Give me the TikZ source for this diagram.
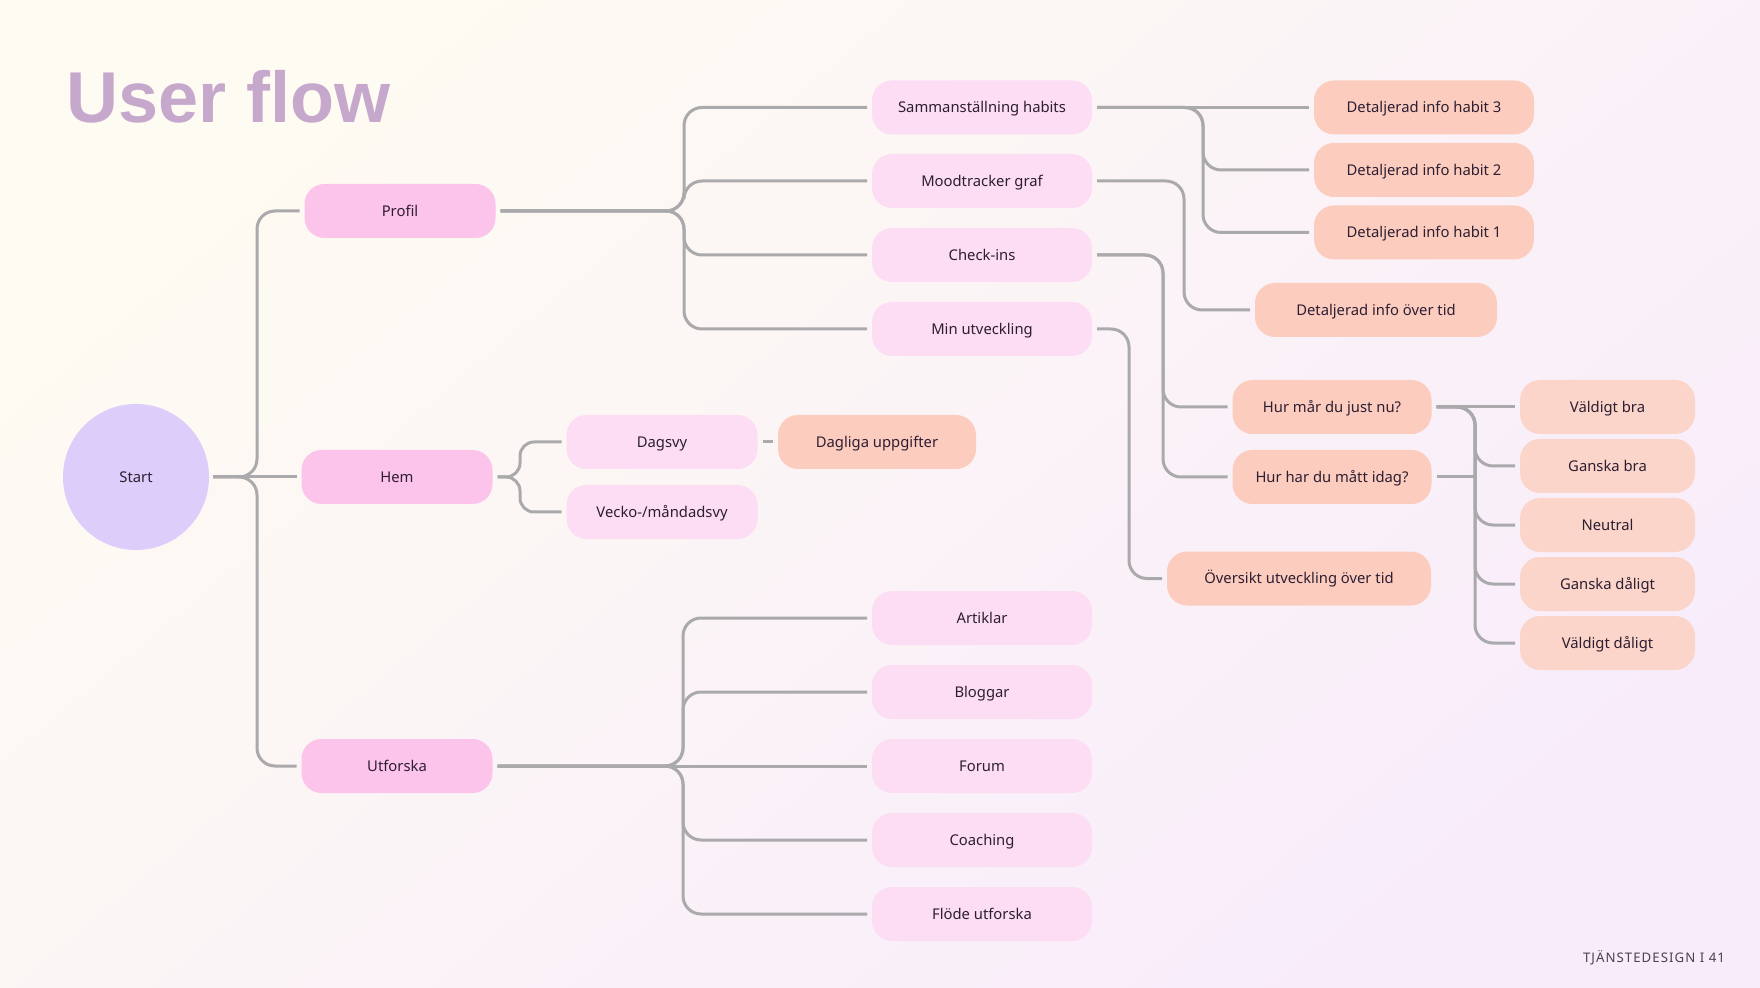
\documentclass[tikz,border=0pt]{standalone}
\usepackage{fontspec}
\setmainfont{Noto Sans}
\newfontfamily\titlefont{Liberation Sans}

\definecolor{bgtop}{RGB}{254,251,242}
\definecolor{bgbot}{RGB}{248,236,251}
\definecolor{titlecol}{RGB}{199,168,205}
\definecolor{startcol}{RGB}{221,205,250}
\definecolor{pinkA}{RGB}{252,195,235}
\definecolor{pinkB}{RGB}{252,221,243}
\definecolor{peachA}{RGB}{252,205,191}
\definecolor{peachB}{RGB}{251,213,202}
\definecolor{inkcol}{RGB}{45,30,50}
\definecolor{linecol}{RGB}{170,170,172}

\tikzset{
  flowbox/.style={rounded corners=10pt, minimum height=27pt, inner sep=0pt, outer sep=2.5pt,
    text height=5.3pt, text depth=0pt, text=inkcol, font=\fontsize{7.4}{9}\selectfont},
  startnode/.style={circle, fill=startcol, minimum size=73pt, inner sep=0pt, outer sep=2pt,
    text height=5.3pt, text depth=0pt, text=inkcol, font=\fontsize{7.4}{9}\selectfont},
  toplevel/.style={flowbox, fill=pinkA, minimum width=95.5pt},
  sublevel/.style={flowbox, fill=pinkB, minimum width=110pt},
  detail/.style={flowbox, fill=peachA, minimum width=110pt},
  mood/.style={flowbox, fill=peachB, minimum width=87.5pt},
  link/.style={draw=linecol, line width=1.5pt, rounded corners=9pt},
}

\begin{document}
\begin{tikzpicture}[x=0.5pt, y=-0.5pt]
\shade[top color=bgtop, bottom color=bgbot, shading angle=40] (0,0) rectangle (1760,988);

\node[anchor=base west, inner sep=0pt, text=titlecol, font=\titlefont\fontsize{36}{40}\selectfont\bfseries] (title) at (66,123) {User flow};
\node[anchor=base east, text=inkcol!85, font=\fontsize{6.6}{8}\selectfont\addfontfeature{LetterSpace=8}] (footer) at (1732,962) {TJÄNSTEDESIGN I 41};

% start and first level
\node[startnode] (start) at (136,477) {Start};
\node[toplevel] (profil) at (400,211) {Profil};
\node[toplevel] (hem) at (397,477) {Hem};
\node[toplevel] (utforska) at (397,766) {Utforska};

% hem
\node[sublevel, minimum width=95.5pt] (dagsvy) at (662,442) {Dagsvy};
\node[sublevel, minimum width=95.5pt] (vecko) at (662,512) {Vecko-/måndadsvy};
\node[detail, minimum width=99pt] (dagliga) at (877,442) {Dagliga uppgifter};

% profil
\node[sublevel] (summ) at (982,107.5) {Sammanställning habits};
\node[sublevel] (moodgraf) at (982,181) {Moodtracker graf};
\node[sublevel] (checkins) at (982,255) {Check-ins};
\node[sublevel] (minutv) at (982,329) {Min utveckling};

\node[detail] (habit3) at (1424,107.5) {Detaljerad info habit 3};
\node[detail] (habit2) at (1424,170) {Detaljerad info habit 2};
\node[detail] (habit1) at (1424,232.5) {Detaljerad info habit 1};
\node[detail, minimum width=121pt] (overtid) at (1376,310) {Detaljerad info över tid};
\node[detail, minimum width=99.5pt] (hurmar) at (1332,407) {Hur mår du just nu?};
\node[detail, minimum width=99.5pt] (hurhar) at (1332,477) {Hur har du mått idag?};
\node[detail, minimum width=132pt] (oversikt) at (1299,578.5) {Översikt utveckling över tid};

\node[mood] (m1) at (1607.5,407) {Väldigt bra};
\node[mood] (m2) at (1607.5,466) {Ganska bra};
\node[mood] (m3) at (1607.5,525) {Neutral};
\node[mood] (m4) at (1607.5,584) {Ganska dåligt};
\node[mood] (m5) at (1607.5,643) {Väldigt dåligt};

% utforska
\node[sublevel] (artiklar) at (982,618) {Artiklar};
\node[sublevel] (bloggar) at (982,692) {Bloggar};
\node[sublevel] (forum) at (982,766) {Forum};
\node[sublevel] (coaching) at (982,840) {Coaching};
\node[sublevel] (flode) at (982,914) {Flöde utforska};

% branch points
\coordinate (j0) at (257,477);
\coordinate (j1) at (684,211);
\coordinate (j2) at (520,477);
\coordinate (j3) at (683,766);
\coordinate (j4) at (1203,107.5);
\coordinate (j5) at (1184,181);
\coordinate (j6) at (1163,255);
\coordinate (j7) at (1129,329);
\coordinate (j8) at (1475,407);
\coordinate (j9) at (1475,477);

\draw[link] (start) -- (hem);
\foreach \k in {profil,utforska} \draw[link] (start) -- (j0) |- (\k);
\foreach \k in {summ,moodgraf,checkins,minutv} \draw[link] (profil) -- (j1) |- (\k);
\foreach \k in {dagsvy,vecko} \draw[link, rounded corners=7pt] (hem) -- (j2) |- (\k);
\draw[link] (dagsvy) -- (dagliga);
\draw[link] (utforska) -- (forum);
\foreach \k in {artiklar,bloggar,coaching,flode} \draw[link] (utforska) -- (j3) |- (\k);
\draw[link] (summ) -- (habit3);
\foreach \k in {habit2,habit1} \draw[link] (summ) -- (j4) |- (\k);
\draw[link] (moodgraf) -- (j5) |- (overtid);
\foreach \k in {hurmar,hurhar} \draw[link] (checkins) -- (j6) |- (\k);
\draw[link] (minutv) -- (j7) |- (oversikt);
\draw[link] (hurmar) -- (m1);
\foreach \k in {m2,m3,m4,m5} \draw[link] (hurmar) -- (j8) |- (\k);
\draw[link] (hurhar) -- (j9);
\end{tikzpicture}
\end{document}
